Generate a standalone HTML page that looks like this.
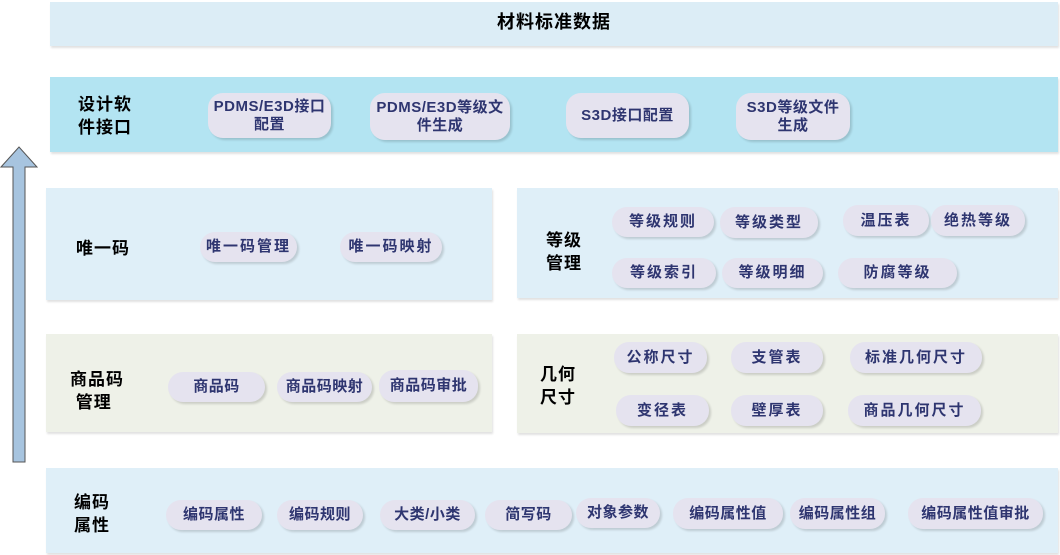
<!DOCTYPE html>
<html><head><meta charset="utf-8"><style>
body{margin:0;width:1060px;height:555px;background:#fff;position:relative;overflow:hidden;font-family:"Liberation Sans","Noto Sans CJK SC",sans-serif}
.b{position:absolute;box-shadow:1px 2px 2px rgba(0,0,0,.12)}
.l{position:absolute;font-weight:bold;font-size:17px;letter-spacing:1px;line-height:23px;color:#000}
.p{position:absolute;background:#e5e3ef;border-radius:15px;box-shadow:2px 2px 2px rgba(0,0,0,.15);color:#2e3570;font-weight:bold;font-size:15px;letter-spacing:2px;display:flex;align-items:center;justify-content:center;text-align:center;line-height:18px;white-space:nowrap}
.p.s{letter-spacing:0.5px}
</style></head><body>
<div class="b" style="left:50px;top:2px;width:1008px;height:44px;background:#dcedf6"></div>
<div class="l" style="left:50px;top:11px;width:1008px;text-align:center;font-size:18px">材料标准数据</div>

<div class="b" style="left:50px;top:77px;width:1008px;height:75px;background:#b3e4f2"></div>
<div class="l" style="left:78px;top:93px">设计软<br>件接口</div>
<div class="p s" style="left:208px;top:93px;width:123px;height:45px">PDMS/E3D接口<br>配置</div>
<div class="p s" style="left:370px;top:93px;width:140px;height:47px">PDMS/E3D等级文<br>件生成</div>
<div class="p s" style="left:566px;top:93px;width:123px;height:45px">S3D接口配置</div>
<div class="p s" style="left:736px;top:93px;width:114px;height:47px">S3D等级文件<br>生成</div>

<svg style="position:absolute;left:0;top:145px" width="40" height="320"><polygon points="1,22 19,2 37,22 25,22 25,317 13,317 13,22" fill="#a7c4df" stroke="#555" stroke-width="1"/></svg>

<div class="b" style="left:46px;top:188px;width:446px;height:112px;background:#dfeff8"></div>
<div class="l" style="left:76px;top:237px">唯一码</div>
<div class="p" style="left:200px;top:232px;width:97px;height:30px">唯一码管理</div>
<div class="p" style="left:340px;top:232px;width:102px;height:30px">唯一码映射</div>

<div class="b" style="left:517px;top:188px;width:541px;height:110px;background:#dfeff8"></div>
<div class="l" style="left:546px;top:229px">等级<br>管理</div>
<div class="p" style="left:612px;top:207px;width:102px;height:30px">等级规则</div>
<div class="p" style="left:720px;top:207px;width:98px;height:31px">等级类型</div>
<div class="p" style="left:843px;top:205px;width:86px;height:31px">温压表</div>
<div class="p" style="left:931px;top:205px;width:94px;height:31px">绝热等级</div>
<div class="p" style="left:612px;top:258px;width:104px;height:30px">等级索引</div>
<div class="p" style="left:722px;top:258px;width:101px;height:30px">等级明细</div>
<div class="p" style="left:838px;top:258px;width:119px;height:30px">防腐等级</div>

<div class="b" style="left:46px;top:334px;width:446px;height:98px;background:#eef1e8"></div>
<div class="l" style="left:70px;top:368px">商品码<br>&nbsp;管理</div>
<div class="p s" style="left:168px;top:372px;width:97px;height:30px">商品码</div>
<div class="p s" style="left:277px;top:372px;width:95px;height:30px">商品码映射</div>
<div class="p s" style="left:379px;top:370px;width:99px;height:32px">商品码审批</div>

<div class="b" style="left:517px;top:334px;width:541px;height:99px;background:#eef1e8"></div>
<div class="l" style="left:540px;top:363px">几何<br>尺寸</div>
<div class="p" style="left:614px;top:342px;width:93px;height:31px">公称尺寸</div>
<div class="p" style="left:731px;top:342px;width:92px;height:31px">支管表</div>
<div class="p" style="left:850px;top:342px;width:132px;height:31px">标准几何尺寸</div>
<div class="p" style="left:616px;top:395px;width:93px;height:31px">变径表</div>
<div class="p" style="left:731px;top:395px;width:92px;height:31px">壁厚表</div>
<div class="p" style="left:848px;top:395px;width:133px;height:31px">商品几何尺寸</div>

<div class="b" style="left:46px;top:468px;width:1012px;height:85px;background:#dfeff8"></div>
<div class="l" style="left:74px;top:491px">编码<br>属性</div>
<div class="p s" style="left:166px;top:500px;width:96px;height:30px">编码属性</div>
<div class="p s" style="left:277px;top:500px;width:86px;height:30px">编码规则</div>
<div class="p s" style="left:380px;top:500px;width:95px;height:30px">大类/小类</div>
<div class="p s" style="left:485px;top:500px;width:87px;height:30px">简写码</div>
<div class="p s" style="left:576px;top:498px;width:84px;height:30px">对象参数</div>
<div class="p s" style="left:673px;top:498px;width:110px;height:31px">编码属性值</div>
<div class="p s" style="left:790px;top:498px;width:95px;height:31px">编码属性组</div>
<div class="p s" style="left:908px;top:498px;width:135px;height:31px">编码属性值审批</div>
</body></html>
